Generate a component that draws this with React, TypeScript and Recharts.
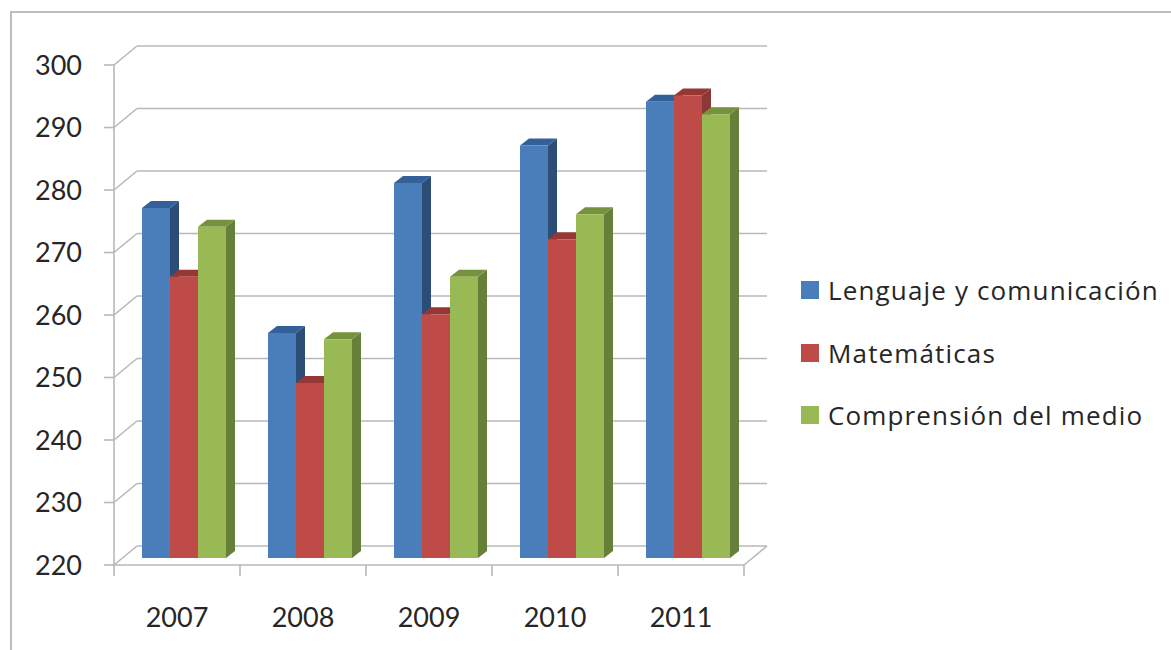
import React from 'react';
import { BarChart, Bar, XAxis, YAxis, CartesianGrid, Legend } from 'recharts';

const years = ['2007', '2008', '2009', '2010', '2011'];
const lenguaje = [276, 256, 280, 286, 293];
const matematicas = [265, 248, 259, 271, 294];
const comprension = [273, 255, 265, 275, 291];
const yTicks = [220, 230, 240, 250, 260, 270, 280, 290, 300];

const data = years.map((year, i) => ({
  year,
  lenguaje: lenguaje[i],
  matematicas: matematicas[i],
  comprension: comprension[i],
}));

const FONT = 'Lato, sans-serif';
const TEXT = '#262626';
const GRID = '#b8b8b8';
const CHART_W = 1171;
const MARGIN_RIGHT = 427;
const Y_AXIS_W = 114;
const BAND = (CHART_W - MARGIN_RIGHT - Y_AXIS_W) / years.length;

// how far the bars and the back wall sit behind the axis plane
const BAR_DX = 7;
const BAR_DY = -7;
const SIDE_DX = 9;
const SIDE_DY = -7;
const WALL_DX = 23;
const WALL_DY = -19;

const Bar3D = (side: string, top: string) => (props: any) => {
  const { x, y, width, height, fill } = props;
  const l = x + BAR_DX;
  const r = l + width;
  const t = y + BAR_DY;
  const b = t + height;
  return (
    <g>
      <polygon points={`${r},${t} ${r + SIDE_DX},${t + SIDE_DY} ${r + SIDE_DX},${b + SIDE_DY} ${r},${b}`} fill={side} />
      <polygon points={`${l},${t} ${l + SIDE_DX},${t + SIDE_DY} ${r + SIDE_DX},${t + SIDE_DY} ${r},${t}`} fill={top} />
      <rect x={l} y={t} width={width} height={height} fill={fill} />
    </g>
  );
};

const GridLine3D = (props: any) => {
  const { x1, x2, y1 } = props;
  const isFloor = y1 > 560;
  return (
    <g key={`grid-${y1}`} stroke={GRID} strokeWidth={1.6} fill="none">
      <line x1={x1} y1={y1} x2={x1 + WALL_DX} y2={y1 + WALL_DY} />
      <line x1={x1 + WALL_DX} y1={y1 + WALL_DY} x2={x2 + WALL_DX} y2={y1 + WALL_DY} />
      {isFloor && <line x1={x2} y1={y1} x2={x2 + WALL_DX} y2={y1 + WALL_DY} />}
    </g>
  );
};

// tick marks go between the categories, not under them
const YearTick = (props: any) => {
  const { x, y, payload, index } = props;
  const left = x - BAND / 2;
  const right = x + BAND / 2;
  return (
    <g>
      <line x1={left} y1={y - 11} x2={left} y2={y} stroke={GRID} strokeWidth={1.6} />
      {index === years.length - 1 && <line x1={right} y1={y - 11} x2={right} y2={y} stroke={GRID} strokeWidth={1.6} />}
      <text x={x} y={y + 51} textAnchor="middle" fill={TEXT} fontSize={27} fontFamily={FONT}>
        {payload.value}
      </text>
    </g>
  );
};

const LegendBox = ({ payload }: any) => (
  <div style={{ fontFamily: '"Open Sans", sans-serif', fontSize: 26, letterSpacing: 1.15, color: TEXT }}>
    {(payload || []).map((item: any) => (
      <div key={item.value} style={{ display: 'flex', alignItems: 'center', height: 62.5 }}>
        <span style={{ width: 18, height: 18, background: item.color, marginRight: 9, flex: 'none' }} />
        <span style={{ whiteSpace: 'nowrap' }}>{item.value}</span>
      </div>
    ))}
  </div>
);

export default function App() {
  return (
    <div style={{ position: 'absolute', left: 0, top: 0, width: 1171, height: 650, background: '#fff', overflow: 'hidden' }}>
      <div style={{ position: 'absolute', left: 10, top: 11, width: 1171, height: 650, borderLeft: '2px solid #bdbdbd', borderTop: '2px solid #bdbdbd' }} />
      <div style={{ position: 'absolute', left: 0, top: 0 }}>
        <BarChart
          width={CHART_W}
          height={650}
          data={data}
          margin={{ top: 65, right: MARGIN_RIGHT, bottom: 0, left: 0 }}
          barGap={0}
          barSize={28}
        >
          <CartesianGrid vertical={false} horizontal={GridLine3D} />
          <XAxis
            dataKey="year"
            height={85}
            axisLine={{ stroke: GRID, strokeWidth: 1.6 }}
            tickLine={false}
            tickSize={11}
            tickMargin={0}
            tick={YearTick}
          />
          <YAxis
            width={Y_AXIS_W}
            domain={[220, 300]}
            ticks={yTicks}
            interval={0}
            axisLine={{ stroke: GRID, strokeWidth: 1.6 }}
            tickLine={{ stroke: GRID, strokeWidth: 1.6 }}
            tickSize={10}
            tickMargin={22}
            tick={{ fill: TEXT, fontSize: 27, fontFamily: FONT }}
          />
          <Legend
            layout="vertical"
            align="center"
            verticalAlign="middle"
            itemSorter={null}
            content={<LegendBox />}
            wrapperStyle={{ left: 801, top: 259, width: 370 }}
          />
          <Bar dataKey="lenguaje" name="Lenguaje y comunicación" fill="#4a7ebb" isAnimationActive={false} shape={Bar3D('#2c4d75', '#34609a')} />
          <Bar dataKey="matematicas" name="Matemáticas" fill="#be4b48" isAnimationActive={false} shape={Bar3D('#8c3836', '#953735')} />
          <Bar dataKey="comprension" name="Comprensión del medio" fill="#98b954" isAnimationActive={false} shape={Bar3D('#66803a', '#76923c')} />
        </BarChart>
      </div>
    </div>
  );
}
